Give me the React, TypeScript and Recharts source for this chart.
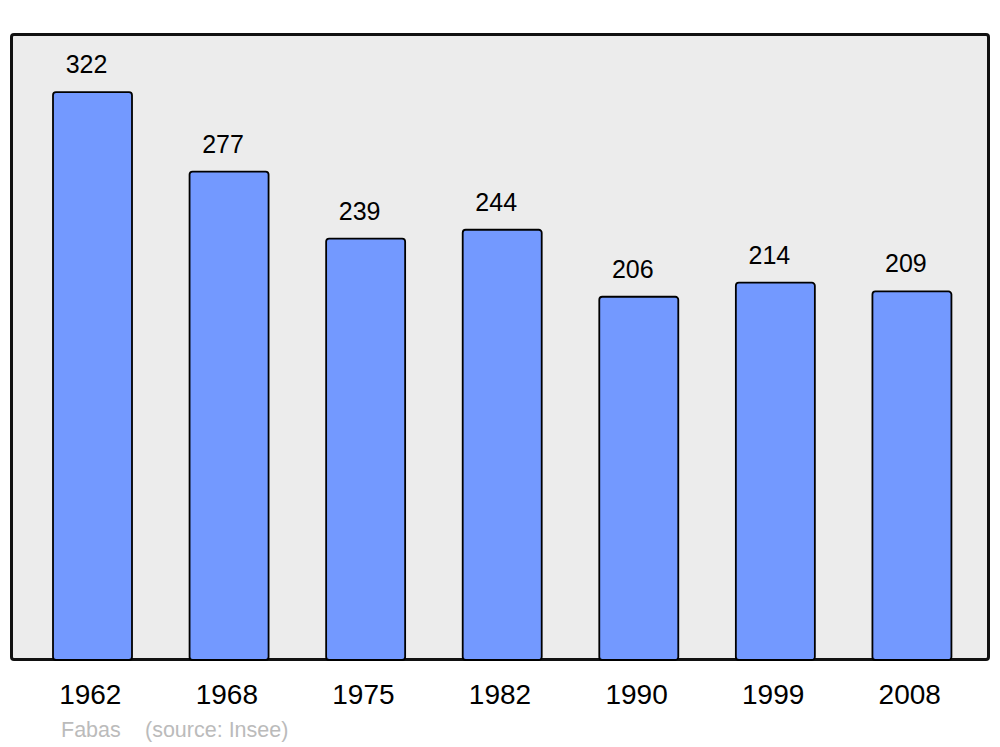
import { BarChart, Bar, XAxis, YAxis, LabelList } from "recharts";

const years = ["1962", "1968", "1975", "1982", "1990", "1999", "2008"];
const population = [322, 277, 239, 244, 206, 214, 209];
const commune = "Fabas";
const source = "(source: Insee)";

const data = years.map((year, i) => ({ year, population: population[i] }));

const font = '"Liberation Sans", Arial, sans-serif';

function ValueLabel(props: any) {
    const { x, y, width, value } = props;
    return (
        <text
            x={x + width / 2 - 6}
            y={y - 19}
            textAnchor="middle"
            fontSize={25}
            fontFamily={font}
            fill="#000"
        >
            {value}
        </text>
    );
}

export default function App() {
    return (
        <div style={{ position: "fixed", left: 0, top: 0, width: 1000, height: 747, background: "#fff", fontFamily: font }}>
            <div
                style={{
                    position: "absolute",
                    left: 10,
                    top: 33,
                    width: 980,
                    height: 628,
                    boxSizing: "border-box",
                    border: "3px solid #111",
                    borderRadius: 4,
                    background: "#ececec",
                }}
            />
            <div style={{ position: "absolute", left: 0, top: 0 }}>
                <BarChart
                    width={1000}
                    height={747}
                    data={data}
                    margin={{ top: 34, right: 20, bottom: 0, left: 24 }}
                    barSize={79}
                >
                    <XAxis
                        dataKey="year"
                        axisLine={false}
                        tickLine={false}
                        tickSize={0}
                        tickMargin={24}
                        height={87}
                        interval={0}
                        tick={{ fontSize: 28, fill: "#000", fontFamily: font, dx: -2 }}
                    />
                    <YAxis hide domain={[0, 355]} />
                    <Bar
                        dataKey="population"
                        fill="#7399ff"
                        stroke="#000"
                        strokeWidth={1.8}
                        radius={3}
                        isAnimationActive={false}
                    >
                        <LabelList dataKey="population" content={ValueLabel} />
                    </Bar>
                </BarChart>
            </div>
            <div style={{ position: "absolute", left: 61, top: 718, fontSize: 21.5, color: "#bbb", lineHeight: "normal" }}>{commune}</div>
            <div style={{ position: "absolute", left: 145, top: 718, fontSize: 21.5, color: "#bbb", lineHeight: "normal" }}>{source}</div>
        </div>
    );
}
